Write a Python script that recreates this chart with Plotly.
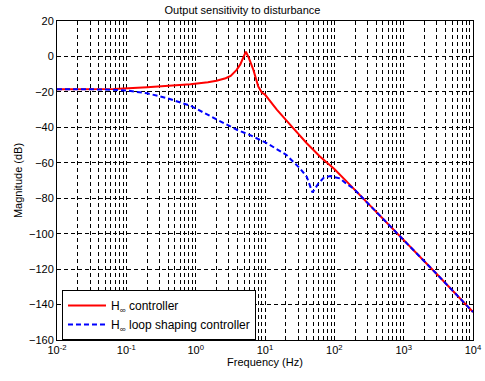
import numpy as np
import plotly.graph_objects as go

# Frequencies (Hz) and magnitudes (dB)
f_hinf = [0.01, 0.03, 0.066, 0.2, 0.5, 0.84, 1.5, 2.0, 2.7, 3.2, 3.9, 4.4, 5.0, 5.3,
          5.8, 6.8, 8.0, 9.0, 10.0, 14.8, 25.7, 40, 62, 100, 150, 189, 300, 794, 1000,
          3000, 10000]
mag_hinf = [-18.5, -18.5, -18.4, -17.4, -16.5, -15.7, -14.5, -13.7, -12.3, -11.0, -7.6,
            -4.5, 0.5, 2.7, -0.5, -7.6, -17.0, -20.4, -21.5, -30.0, -40.6, -49.0, -56.5,
            -63.5, -70.5, -74.5, -82.5, -99.8, -103.7, -122.8, -144.2]

f_lsh = [0.01, 0.05, 0.1, 0.15, 0.2, 0.39, 0.84, 2.0, 4.0, 6.1, 9.5, 10.7, 20.4, 32,
         40, 42.3, 48.3, 52, 59, 70, 87, 120, 151, 189, 300, 794, 1000, 3000, 10000]
mag_lsh = [-18.5, -18.6, -19.2, -20.0, -20.8, -23.6, -27.8, -35.5, -41.5, -44.4, -48.1,
           -49.0, -55.6, -63.2, -67.9, -70.7, -76.7, -75.0, -71.6, -68.5, -67.5, -68.8,
           -72.0, -74.5, -82.5, -99.8, -103.7, -122.8, -144.2]

x_major = [0.01, 0.1, 1, 10, 100, 1000, 10000]
x_labels = ["10<sup>-2</sup>", "10<sup>-1</sup>", "10<sup>0</sup>", "10<sup>1</sup>",
            "10<sup>2</sup>", "10<sup>3</sup>", "10<sup>4</sup>"]
x_minor = [m * d for d in x_major[:-1] for m in range(2, 10)]
y_ticks = list(range(-160, 21, 20))

FONT = "Liberation Sans, Arial, sans-serif"
GRID_DASH = "4px,3px"

fig = go.Figure()
fig.add_trace(go.Scatter(x=f_hinf, y=mag_hinf, mode="lines", name="H<sub>∞</sub> controller",
                         line=dict(color="#ff0000", width=2)))
fig.add_trace(go.Scatter(x=f_lsh, y=mag_lsh, mode="lines",
                         name="H<sub>∞</sub> loop shaping controller",
                         line=dict(color="#0000ff", width=2, dash="5px,3px")))

fig.update_layout(
    width=485, height=381,
    margin=dict(l=57, r=12, t=21, b=41),
    paper_bgcolor="white", plot_bgcolor="white",
    font=dict(family=FONT, size=11, color="black"),
    title=dict(text="Output sensitivity to disturbance", x=0.5, xanchor="center",
               y=1 - 10 / 381, yanchor="middle", font=dict(size=11)),
    showlegend=True,
    legend=dict(x=0.012, y=0.0, xanchor="left", yanchor="bottom",
                bgcolor="white", bordercolor="black", borderwidth=1,
                font=dict(size=12), tracegroupgap=2, itemwidth=38),
)
fig.update_xaxes(
    type="log", range=[-2, 4], automargin=False,
    tickmode="array", tickvals=x_major, ticktext=x_labels,
    ticks="inside", ticklen=4, tickcolor="black",
    showline=True, linecolor="black", linewidth=1, mirror="ticks",
    showgrid=True, gridcolor="black", gridwidth=1, griddash=GRID_DASH,
    minor=dict(tickmode="array", tickvals=x_minor, ticks="inside", ticklen=2,
               tickcolor="black", showgrid=True, gridcolor="black", gridwidth=1,
               griddash=GRID_DASH),
    title=dict(text="Frequency (Hz)", standoff=2, font=dict(size=11)),
    zeroline=False,
)
fig.update_yaxes(
    range=[-160, 20], tickmode="array", tickvals=y_ticks, automargin=False,
    ticks="inside", ticklen=4, tickcolor="black",
    showline=True, linecolor="black", linewidth=1, mirror="ticks",
    showgrid=True, gridcolor="black", gridwidth=1, griddash=GRID_DASH,
    title=dict(text="Magnitude (dB)", standoff=4, font=dict(size=11)),
    zeroline=False,
)

fig.write_html("out.html", config={"displayModeBar": False},
               post_script="document.body.style.margin='0';document.body.style.overflow='hidden';")
